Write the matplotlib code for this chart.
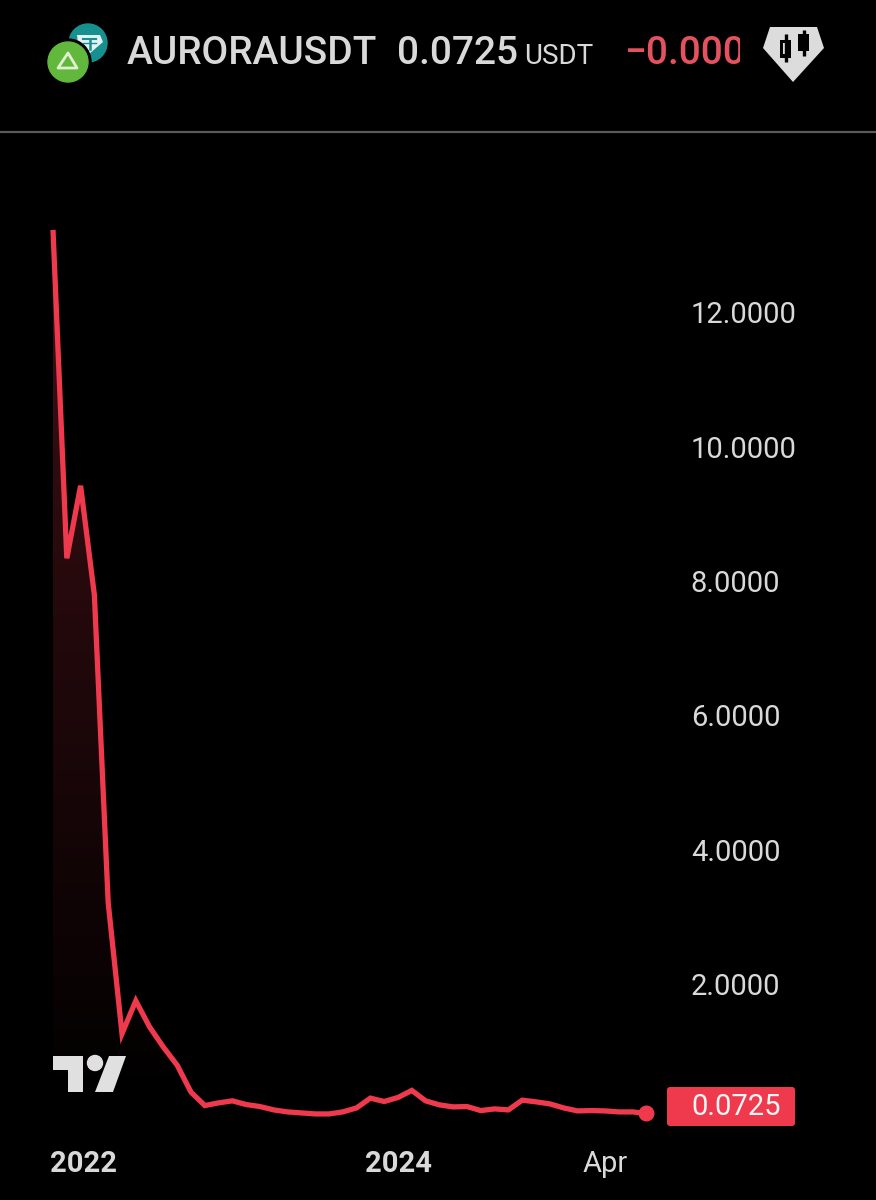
import matplotlib
matplotlib.use('Agg')
import matplotlib.pyplot as plt
import numpy as np
from matplotlib.patches import Circle, Polygon, FancyBboxPatch, Rectangle
from matplotlib.transforms import Bbox

plt.rcParams['font.family'] = ['Roboto', 'DejaVu Sans']

prices = [13.23, 8.34, 9.42, 7.79, 3.21, 1.26, 1.75, 1.36, 1.06, 0.79, 0.39,
          0.19, 0.23, 0.26, 0.205, 0.175, 0.125, 0.095, 0.08, 0.065, 0.065,
          0.095, 0.155, 0.30, 0.25, 0.31, 0.415, 0.26, 0.20, 0.17, 0.175,
          0.115, 0.14, 0.125, 0.27, 0.245, 0.215, 0.155, 0.11, 0.115, 0.11,
          0.095, 0.095, 0.0725]
months = list(range(len(prices)))

y_ticks = [2, 4, 6, 8, 10, 12]
y_labels = ['2.0000', '4.0000', '6.0000', '8.0000', '10.0000', '12.0000']
x_ticks = [2.2, 25, 40]
x_labels = ['2022', '2024', 'Apr']

RED = '#ef3a4e'
TEXT = '#d9d9d9'
W, H = 876, 1200

fig = plt.figure(figsize=(W / 100, H / 100), dpi=100, facecolor='black')

# chart axes: left 670 px wide, from y=135 px down to y=1135 px
ax = fig.add_axes([0, (H - 1135) / H, 670 / W, 1000 / H], facecolor='black')
for s in ax.spines.values():
    s.set_visible(False)

ax.yaxis.tick_right()
ax.set_yticks(y_ticks)
ax.set_yticklabels(y_labels, fontsize=21, color=TEXT, ha='left')
ax.set_xticks(x_ticks)
ax.set_xticklabels(x_labels, fontsize=21, color=TEXT)
ax.tick_params(axis='y', length=0, pad=15)
ax.tick_params(axis='x', length=0, pad=10.5)
for lab in ax.get_xticklabels()[:2]:
    lab.set_fontweight('bold')

# fill under the line, fades out to the bottom
grad = np.zeros((256, 2, 4))
grad[..., :3] = matplotlib.colors.to_rgb(RED)
grad[..., 3] = np.linspace(0.27, 0.0, 256)[:, None]
img = ax.imshow(grad, extent=[months[0], months[-1], 0, max(prices)], origin='upper',
                aspect='auto', zorder=1)
poly = Polygon(list(zip(months, prices)) + [(months[-1], 0), (months[0], 0)],
               transform=ax.transData, facecolor='none', edgecolor='none')
ax.add_patch(poly)
img.set_clip_path(poly)
ax.set_xlim(-53 / 13.8, (670 - 53) / 13.8)
ax.set_ylim((1118.3 - 1135) / 67.15, (1118.3 - 135) / 67.15)

ax.plot(months, prices, color=RED, lw=3.8, solid_joinstyle='miter', solid_capstyle='butt', zorder=3)
ax.plot(months[-1], prices[-1], 'o', color=RED, ms=10.5, zorder=4)

# overlay in pixel coordinates for the header, logo and price tag
ov = fig.add_axes([0, 0, 1, 1], facecolor='none')
ov.set_xlim(0, W)
ov.set_ylim(H, 0)
ov.axis('off')

ov.plot([0, W], [132, 132], color='#5a5a5a', lw=1.6)

# coin icons
ov.add_patch(Circle((88, 43), 19, color='#17918f'))
ov.add_patch(Polygon([(77, 35), (100, 35), (103, 42), (89, 54), (78, 43)], closed=True,
                     facecolor='#e4f2f0', edgecolor='none'))
ov.plot([83, 96], [39, 39], color='#17918f', lw=1.5)
ov.plot([89.5, 89.5], [39, 49], color='#17918f', lw=1.8)
ov.plot([83, 96], [43, 43], color='#17918f', lw=1)
ov.add_patch(Circle((68, 62), 23, color='black'))
ov.add_patch(Circle((68, 62), 20, color='#62b83c'))
ov.add_patch(Polygon([(68, 53), (77, 68), (58, 68)], closed=True, facecolor='none',
                     edgecolor='#dff0d0', lw=2, joinstyle='round'))

ov.text(127, 53.5, 'AURORAUSDT', color=TEXT, fontsize=28, fontweight='medium', va='center')
ov.text(397, 53.5, '0.0725', color=TEXT, fontsize=28, fontweight='medium', va='center')
ov.text(524, 57, 'USDT', color=TEXT, fontsize=20, va='center')
chg = ov.text(625, 53.5, '\u22120.0000', color='#e5525f', fontsize=28, fontweight='medium', va='center')
chg.set_clip_box(Bbox([[0, 0], [740, H]]))
chg.set_clip_on(True)

# candle badge
ov.add_patch(Polygon([(770, 27), (817, 27), (824, 48), (793, 82), (763, 48)], closed=True,
                     facecolor='#dcdcdc', edgecolor='none'))
ov.plot([785.5, 785.5], [34, 62], color='black', lw=2.4, solid_capstyle='butt')
ov.add_patch(Rectangle((780, 40), 11, 18, facecolor='black', edgecolor='none'))
ov.add_patch(Rectangle((783, 43), 5, 11, facecolor='#dcdcdc', edgecolor='none'))
ov.plot([803.5, 803.5], [30, 56], color='black', lw=2.4, solid_capstyle='butt')
ov.add_patch(Rectangle((798, 34), 11, 17, facecolor='black', edgecolor='none'))

# tradingview mark
logo = '#e0e0e0'
ov.add_patch(Polygon([(53, 1056), (83, 1056), (83, 1092), (68, 1092), (68, 1070), (53, 1070)],
                     closed=True, facecolor=logo, edgecolor='none'))
ov.add_patch(Circle((95, 1063), 7.5, color=logo))
ov.add_patch(Polygon([(109, 1056), (126, 1056), (113, 1092), (95, 1092)], closed=True,
                     facecolor=logo, edgecolor='none'))

# last price tag
ov.add_patch(FancyBboxPatch((667, 1087), 128, 39, boxstyle='round,pad=0,rounding_size=3',
                            facecolor=RED, edgecolor='none'))
ov.text(691, 1107, '0.0725', color='#f5f5f5', fontsize=21, va='center')

fig.savefig('out.png', dpi=100, facecolor='black')
